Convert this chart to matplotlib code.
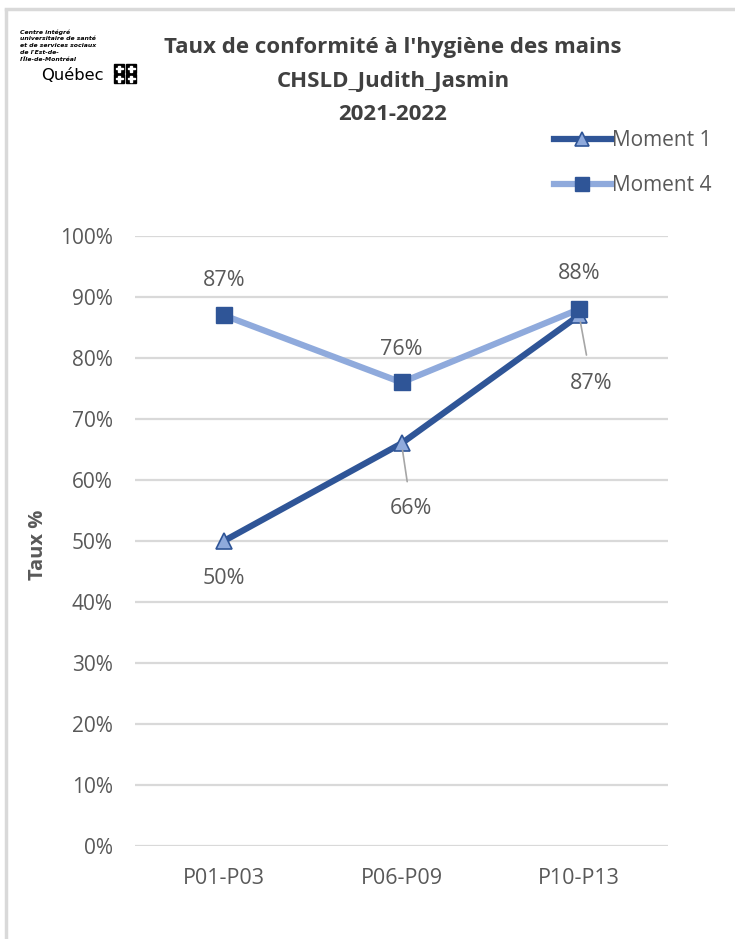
import matplotlib
matplotlib.use("Agg")
import matplotlib.pyplot as plt
from matplotlib.lines import Line2D
from matplotlib.patches import Rectangle

categories = ["P01-P03", "P06-P09", "P10-P13"]
moment1 = [50, 66, 87]
moment4 = [87, 76, 88]
yticks = [0, 10, 20, 30, 40, 50, 60, 70, 80, 90, 100]
title_lines = ["Taux de conformité à l'hygiène des mains", "CHSLD_Judith_Jasmin", "2021-2022"]

DARK = "#2F5597"
LIGHT = "#8FAADC"
TXT = "#595959"
FONT = ["Open Sans", "DejaVu Sans"]
plt.rcParams['font.family'] = FONT

W, H = 735, 939
fig = plt.figure(figsize=(W / 100, H / 100), dpi=100)

def fx(px):
    return px / W

def fy(py):
    return 1 - py / H

ax = fig.add_axes([fx(135), fy(846), fx(668) - fx(135), fy(236) - fy(846)])
x = list(range(len(categories)))

ax.plot(x, moment1, color=DARK, lw=4.5, marker="^", ms=11,
        mfc=LIGHT, mec=DARK, mew=1.2, zorder=3, solid_capstyle="round")
ax.plot(x, moment4, color=LIGHT, lw=4.5, marker="s", ms=11,
        mfc=DARK, mec=DARK, mew=1.0, zorder=4, solid_capstyle="round")

ax.set_xlim(-0.5, len(categories) - 0.5)
ax.set_ylim(0, 100)
ax.set_yticks(yticks)
ax.set_yticklabels([f"{v}%" for v in yticks])
ax.set_xticks(x)
ax.set_xticklabels(categories)
ax.tick_params(axis="y", length=0, labelsize=15, colors=TXT, pad=16)
ax.tick_params(axis="x", length=0, labelsize=15.5, colors=TXT, pad=16)
for s in ax.spines.values():
    s.set_visible(False)
ax.yaxis.grid(True, color="#D9D9D9", lw=1.6)
ax.set_axisbelow(True)
ax.set_ylabel("Taux %", fontsize=14.5, fontweight="bold", color=TXT)
ax.yaxis.set_label_coords((48 - 135) / 533, (846 - 545) / 610)

lab_kw = dict(ha="center", va="center", fontsize=15.5, color=TXT)
# Moment 4 labels (above)
m4_off = [25, 24, 26]
for i, v in enumerate(moment4):
    ax.annotate(f"{v}%", (i, v), xytext=(0, m4_off[i]), textcoords="offset points", **lab_kw)
# Moment 1 labels
ax.annotate(f"{moment1[0]}%", (0, moment1[0]), xytext=(0, -27), textcoords="offset points", **lab_kw)
ax.annotate(f"{moment1[1]}%", (1, moment1[1]), xytext=(7, -47), textcoords="offset points",
            arrowprops=dict(arrowstyle="-", color="#A6A6A6", lw=1.2, shrinkA=10, shrinkB=5), **lab_kw)
ax.annotate(f"{moment1[2]}%", (2, moment1[2]), xytext=(9, -49), textcoords="offset points",
            arrowprops=dict(arrowstyle="-", color="#A6A6A6", lw=1.2, shrinkA=11, shrinkB=5), **lab_kw)

# Title
for i, t in enumerate(title_lines):
    fig.text(fx(393), fy(48 + 33.5 * i), t, ha="center", va="center",
             fontsize=16, fontweight="bold", color="#404040")

# Legend
handles = [
    Line2D([], [], color=DARK, lw=4.5, marker="^", ms=10, mfc=LIGHT, mec=DARK, mew=1.2),
    Line2D([], [], color=LIGHT, lw=4.5, marker="s", ms=10, mfc=DARK, mec=DARK),
]
fig.legend(handles, ["Moment 1", "Moment 4"], loc="upper left",
           bbox_to_anchor=(fx(546), fy(122)), frameon=False, fontsize=15,
           labelcolor=TXT, handlelength=2.7, handletextpad=0.06, labelspacing=1.15,
           borderaxespad=0)

# Border
fig.add_artist(Line2D([fx(6), fx(6)], [fy(10), 0], color="#D9D9D9", lw=2.5, transform=fig.transFigure))
fig.add_artist(Line2D([fx(6), 1], [fy(9), fy(9)], color="#D9D9D9", lw=2.5, transform=fig.transFigure))

# Logo
logo_lines = ["Centre intégré", "universitaire de santé", "et de services sociaux",
              "de l'Est-de-", "l'Île-de-Montréal"]
for i, t in enumerate(logo_lines):
    fig.text(fx(20), fy(32 + 6.8 * i), t, fontsize=4.4, fontweight="bold", style="italic",
             color="black", va="center", ha="left", family="DejaVu Sans")
fig.text(fx(41), fy(75), "Québec", fontsize=11.8, color="black", va="center", ha="left",
         family="DejaVu Sans")
for cx in (114, 126):
    for cy in (64, 74):
        fig.add_artist(Rectangle((fx(cx), fy(cy + 9)), fx(10), fy(0) - fy(9),
                                 color="black", transform=fig.transFigure))
        fig.add_artist(Rectangle((fx(cx + 4.3), fy(cy + 7.5)), fx(1.4), fy(0) - fy(6),
                                 color="white", transform=fig.transFigure))
        fig.add_artist(Rectangle((fx(cx + 1.5), fy(cy + 5)), fx(7), fy(0) - fy(1.4),
                                 color="white", transform=fig.transFigure))

fig.savefig("out.png", dpi=100, facecolor="white")
